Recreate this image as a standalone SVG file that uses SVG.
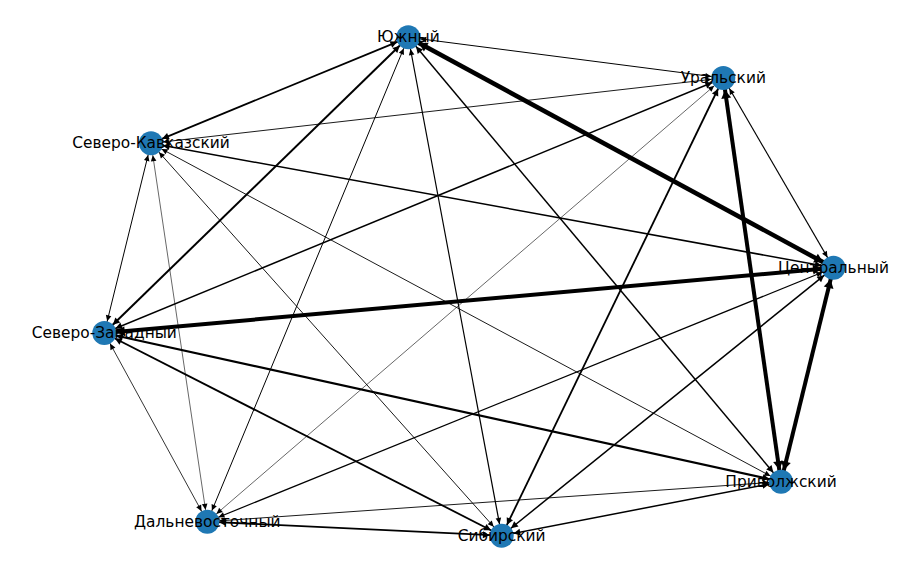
<svg xmlns="http://www.w3.org/2000/svg" width="924" height="572" viewBox="0 0 924 572">
<style>
.e{fill:none;stroke:#000;stroke-linecap:butt}
.t{marker-start:url(#ms);marker-end:url(#ms)}
.m{marker-start:url(#mm);marker-end:url(#mm)}
.k{marker-start:url(#mk);marker-end:url(#mk)}
.node circle{fill:#1f78b4}
.node text{font-family:"DejaVu Sans",sans-serif;font-size:15.4px;fill:#000;text-anchor:middle}
</style>
<defs>
<marker id="ms" viewBox="-20 -10 40 20" markerWidth="40" markerHeight="20" refX="12" refY="0" orient="auto-start-reverse" markerUnits="userSpaceOnUse"><path d="M0,0 L-6,-2.8 L-6,2.8 Z" fill="#000"/></marker>
<marker id="mm" viewBox="-20 -10 40 20" markerWidth="40" markerHeight="20" refX="12" refY="0" orient="auto-start-reverse" markerUnits="userSpaceOnUse"><path d="M0,0 L-6.8,-3.5 L-6.8,3.5 Z" fill="#000"/></marker>
<marker id="mk" viewBox="-20 -10 40 20" markerWidth="40" markerHeight="20" refX="12" refY="0" orient="auto-start-reverse" markerUnits="userSpaceOnUse"><path d="M0,0 L-8.5,-5 L-8.5,5 Z" fill="#000"/></marker>
</defs>
<rect width="924" height="572" fill="#fff"/>
<g id="edges">
<path class="e t" stroke-width="1" d="M408.3,37.3 L723.3,78"/>
<path class="e m" stroke-width="1.8" d="M408.3,37.3 L151,143.3"/>
<path class="e k" stroke-width="4.5" d="M408.3,37.3 L833.5,267.8"/>
<path class="e m" stroke-width="2" d="M408.3,37.3 L104.3,333"/>
<path class="e m" stroke-width="1.5" d="M408.3,37.3 L781,481.7"/>
<path class="e t" stroke-width="1" d="M408.3,37.3 L207.3,521.7"/>
<path class="e t" stroke-width="1.2" d="M408.3,37.3 L501.7,535.7"/>
<path class="e t" stroke-width="0.9" d="M723.3,78 L151,143.3"/>
<path class="e t" stroke-width="1.2" d="M723.3,78 L833.5,267.8"/>
<path class="e m" stroke-width="1.5" d="M723.3,78 L104.3,333"/>
<path class="e k" stroke-width="4" d="M723.3,78 L781,481.7"/>
<path class="e t" stroke-width="0.6" d="M723.3,78 L207.3,521.7"/>
<path class="e m" stroke-width="1.8" d="M723.3,78 L501.7,535.7"/>
<path class="e m" stroke-width="1.5" d="M151,143.3 L833.5,267.8"/>
<path class="e t" stroke-width="1" d="M151,143.3 L104.3,333"/>
<path class="e t" stroke-width="0.9" d="M151,143.3 L781,481.7"/>
<path class="e t" stroke-width="0.6" d="M151,143.3 L207.3,521.7"/>
<path class="e t" stroke-width="0.9" d="M151,143.3 L501.7,535.7"/>
<path class="e k" stroke-width="4" d="M833.5,267.8 L104.3,333"/>
<path class="e k" stroke-width="4" d="M833.5,267.8 L781,481.7"/>
<path class="e t" stroke-width="1.2" d="M833.5,267.8 L207.3,521.7"/>
<path class="e m" stroke-width="1.5" d="M833.5,267.8 L501.7,535.7"/>
<path class="e m" stroke-width="2.2" d="M104.3,333 L781,481.7"/>
<path class="e t" stroke-width="0.8" d="M104.3,333 L207.3,521.7"/>
<path class="e m" stroke-width="1.8" d="M104.3,333 L501.7,535.7"/>
<path class="e t" stroke-width="0.9" d="M781,481.7 L207.3,521.7"/>
<path class="e m" stroke-width="1.5" d="M781,481.7 L501.7,535.7"/>
<path class="e m" stroke-width="1.8" d="M207.3,521.7 L501.7,535.7"/>
</g>
<g id="n-yuzhny" class="node"><circle cx="408.3" cy="37.3" r="12"/><text x="408.3" y="42.3">Южный</text></g>
<g id="n-uralsky" class="node"><circle cx="723.3" cy="78" r="12"/><text x="723.3" y="83">Уральский</text></g>
<g id="n-sev-kavkaz" class="node"><circle cx="151" cy="143.3" r="12"/><text x="151" y="148.3">Северо-Кавказский</text></g>
<g id="n-centralny" class="node"><circle cx="833.5" cy="267.8" r="12"/><text x="833.5" y="272.8">Центральный</text></g>
<g id="n-sev-zapad" class="node"><circle cx="104.3" cy="333" r="12"/><text x="104.3" y="338">Северо-Западный</text></g>
<g id="n-privolzh" class="node"><circle cx="781" cy="481.7" r="12"/><text x="781" y="486.7">Приволжский</text></g>
<g id="n-dalnevost" class="node"><circle cx="207.3" cy="521.7" r="12"/><text x="207.3" y="526.7">Дальневосточный</text></g>
<g id="n-sibirsky" class="node"><circle cx="501.7" cy="535.7" r="12"/><text x="501.7" y="540.7">Сибирский</text></g>
</svg>
